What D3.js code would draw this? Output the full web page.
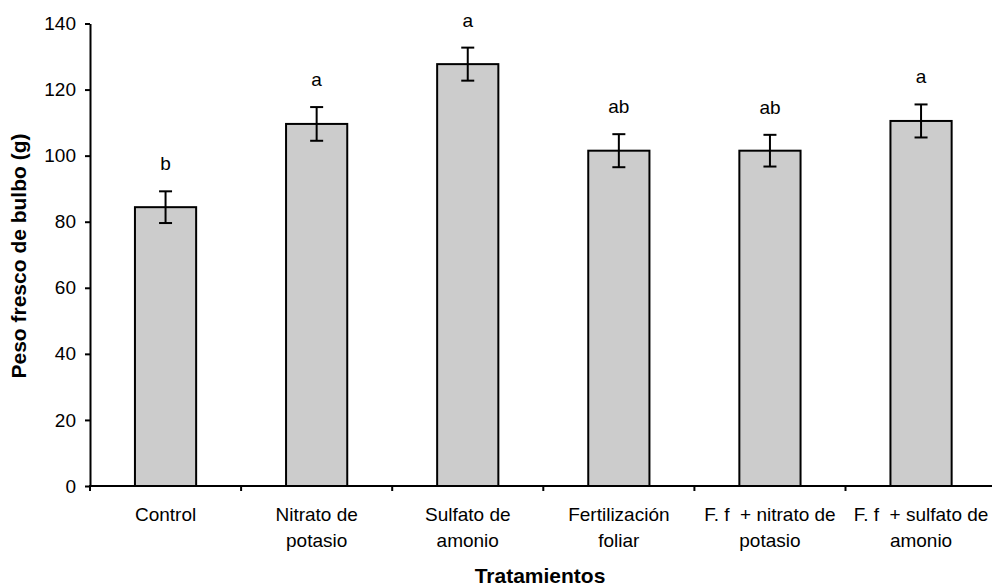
<!DOCTYPE html>
<html>
<head>
<meta charset="utf-8">
<script src="https://cdn.jsdelivr.net/npm/d3@7"></script>
<style>
  body { margin: 0; background: #fff; }
  svg { display: block; font-family: "Liberation Sans", Arial, sans-serif; }
</style>
</head>
<body>
<svg id="chart" width="992" height="586"></svg>
<script>
// data
const categories = ["Control", "Nitrato de potasio", "Sulfato de amonio", "Fertilización foliar", "F. f + nitrato de potasio", "F. f + sulfato de amonio"];
const tickLines = [
    ["Control"],
    ["Nitrato de", "potasio"],
    ["Sulfato de", "amonio"],
    ["Fertilización", "foliar"],
    ["F. f  + nitrato de", "potasio"],
    ["F. f  + sulfato de", "amonio"]
];
const means = [84.4, 109.6, 127.7, 101.5, 101.5, 110.5];
const errors = [4.8, 5.1, 5.0, 5.0, 4.8, 5.0];
const letters = ["b", "a", "a", "ab", "ab", "a"];
const yTicks = [0, 20, 40, 60, 80, 100, 120, 140];

const svg = d3.select("#chart");
const plotLeft = 90, plotRight = 996.6, plotTop = 23.5, plotBottom = 486;

const x = d3.scaleBand()
    .domain(categories)
    .range([plotLeft, plotRight])
    .paddingInner(0.595)
    .paddingOuter(0.2975);

const y = d3.scaleLinear()
    .domain([0, 140])
    .range([plotBottom, plotTop]);

const rows = categories.map((c, i) => ({ cat: c, v: means[i], e: errors[i], letter: letters[i], lines: tickLines[i] }));

// bars
svg.append("g").selectAll("rect")
    .data(rows)
    .enter().append("rect")
    .attr("x", d => x(d.cat))
    .attr("y", d => y(d.v))
    .attr("width", x.bandwidth())
    .attr("height", d => y(0) - y(d.v))
    .attr("fill", "#cccccc")
    .attr("stroke", "#000")
    .attr("stroke-width", 2);

// error bars
const eb = svg.append("g").attr("stroke", "#000").attr("stroke-width", 2);
rows.forEach(d => {
    const cx = x(d.cat) + x.bandwidth() / 2;
    eb.append("line").attr("x1", cx).attr("x2", cx).attr("y1", y(d.v + d.e)).attr("y2", y(d.v - d.e));
    eb.append("line").attr("x1", cx - 6.5).attr("x2", cx + 6.5).attr("y1", y(d.v + d.e)).attr("y2", y(d.v + d.e));
    eb.append("line").attr("x1", cx - 6.5).attr("x2", cx + 6.5).attr("y1", y(d.v - d.e)).attr("y2", y(d.v - d.e));
});

// significance letters
svg.append("g").selectAll("text")
    .data(rows)
    .enter().append("text")
    .attr("x", d => x(d.cat) + x.bandwidth() / 2)
    .attr("y", d => y(d.v + d.e) - 21)
    .attr("text-anchor", "middle")
    .attr("font-size", "19px")
    .text(d => d.letter);

// y axis
const yAxis = svg.append("g")
    .attr("transform", `translate(${plotLeft},0)`)
    .call(d3.axisLeft(y).tickValues(yTicks).tickSize(5).tickSizeOuter(0).tickPadding(9));
yAxis.select(".domain").attr("stroke-width", 2);
yAxis.selectAll(".tick line").attr("stroke-width", 2);
yAxis.selectAll(".tick text")
    .attr("font-size", "19px")
    .attr("font-family", "Liberation Sans, Arial, sans-serif")
    .attr("fill", "#000");

// x axis: line plus ticks on category boundaries
const xg = svg.append("g").attr("stroke", "#000").attr("stroke-width", 2);
xg.append("line").attr("x1", plotLeft - 1).attr("x2", plotRight).attr("y1", y(0)).attr("y2", y(0));
d3.range(categories.length).forEach(i => {
    const bx = plotLeft + i * x.step();
    xg.append("line").attr("x1", bx).attr("x2", bx).attr("y1", y(0)).attr("y2", y(0) + 5);
});

// category labels
const lab = svg.append("g").selectAll("text")
    .data(rows)
    .enter().append("text")
    .attr("text-anchor", "middle")
    .attr("font-size", "19px")
    .style("white-space", "pre");
lab.each(function(d) {
    const t = d3.select(this);
    const cx = x(d.cat) + x.bandwidth() / 2;
    d.lines.forEach((s, j) => {
        t.append("tspan").attr("x", cx).attr("y", 521 + j * 26).text(s);
    });
});

// axis titles
svg.append("text")
    .attr("x", 540)
    .attr("y", 583)
    .attr("text-anchor", "middle")
    .attr("font-size", "21px")
    .attr("font-weight", "bold")
    .text("Tratamientos");

svg.append("text")
    .attr("transform", "translate(26,256) rotate(-90)")
    .attr("text-anchor", "middle")
    .attr("font-size", "21px")
    .attr("font-weight", "bold")
    .text("Peso fresco de bulbo (g)");
</script>
</body>
</html>
